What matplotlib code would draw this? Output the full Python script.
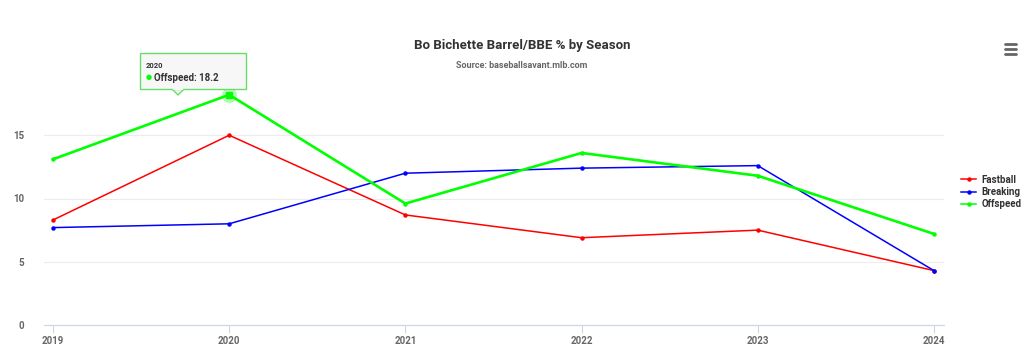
import matplotlib.pyplot as plt
from matplotlib.lines import Line2D

plt.rcParams['font.family'] = ['Roboto', 'DejaVu Sans']

seasons = [2019, 2020, 2021, 2022, 2023, 2024]
fastball = [8.3, 15.0, 8.7, 6.9, 7.5, 4.3]
breaking = [7.7, 8.0, 12.0, 12.4, 12.6, 4.3]
offspeed = [13.1, 18.2, 9.6, 13.6, 11.8, 7.2]

series = [
    ('Fastball', fastball, '#ff0000', 1.1),
    ('Breaking', breaking, '#0000ff', 1.1),
    ('Offspeed', offspeed, '#00ff00', 1.9),
]

fig = plt.figure(figsize=(10.24, 3.47), dpi=100)
ax = fig.add_axes([44 / 1024, 22 / 347, 900 / 1024, 253 / 347])

for name, vals, col, lw in series:
    ax.plot(seasons, vals, color=col, lw=lw, marker='o', markersize=2.2, label=name, zorder=3)

# hovered point
ax.plot(seasons[1], offspeed[1], 'o', markersize=10, color='#00ff00', alpha=0.25, zorder=2)
ax.plot(seasons[1], offspeed[1], 's', markersize=4, color='#00ff00', zorder=4)

ax.set_xlim(2018.949, 2024.057)
ax.set_ylim(0, 20)
ax.set_yticks([0, 5, 10, 15])
ax.set_xticks(seasons)
ax.set_xticklabels([str(s) for s in seasons])
ax.grid(axis='y', color='#ececec', lw=0.8)
ax.set_axisbelow(True)
for s in ['top', 'right', 'left']:
    ax.spines[s].set_visible(False)
ax.spines['bottom'].set_color('#ccd6eb')
ax.tick_params(axis='y', length=0, labelsize=7, labelcolor='#666666', pad=14)
ax.tick_params(axis='x', length=6, color='#ccd6eb', labelsize=7, labelcolor='#666666', pad=2)
for lbl in ax.get_xticklabels() + ax.get_yticklabels():
    lbl.set_fontweight('bold')

fig.text(522 / 1024, 1 - 46 / 347, 'Bo Bichette Barrel/BBE % by Season', ha='center', va='center',
         fontsize=9.5, fontweight='bold', color='#333333')
fig.text(522 / 1024, 1 - 65 / 347, 'Source: baseballsavant.mlb.com', ha='center', va='center',
         fontsize=6.5, fontweight='bold', color='#666666')

# legend
handles = [Line2D([0], [0], color=c, lw=1.1, marker='o', markersize=2.2) for _, _, c, _ in series]
leg = fig.legend(handles, [n for n, _, _, _ in series], loc='center left',
                 bbox_to_anchor=(952 / 1024, 1 - 192 / 347), frameon=False,
                 fontsize=7, handlelength=1.6, handletextpad=0.5, labelspacing=0.25)
for t in leg.get_texts():
    t.set_fontweight('bold')
    t.set_color('#333333')

# tooltip
box_x0, box_y0 = 140 / 1024, 1 - 89 / 347
fig.patches.append(plt.Rectangle((box_x0, box_y0), 106 / 1024, 36 / 347, transform=fig.transFigure,
                                 facecolor='#f7f7f7', edgecolor='#66dd66', lw=1, zorder=10))
fig.patches.append(plt.Polygon([(172 / 1024, box_y0), (184 / 1024, box_y0), (178 / 1024, 1 - 95 / 347)],
                               closed=True, transform=fig.transFigure, facecolor='#f7f7f7',
                               edgecolor='#66dd66', lw=1, zorder=9))
fig.patches.append(plt.Rectangle((173 / 1024, box_y0 - 0.004), 10 / 1024, 0.008, transform=fig.transFigure,
                                 facecolor='#f7f7f7', edgecolor='none', zorder=11))
fig.text(146 / 1024, 1 - 66 / 347, '2020', fontsize=5.5, fontweight='bold', color='#333333',
         va='center', zorder=12)
fig.text(146 / 1024, 1 - 78 / 347, '●', fontsize=5, color='#00ff00', va='center', zorder=12)
fig.text(154 / 1024, 1 - 78 / 347, 'Offspeed: 18.2', fontsize=7, fontweight='bold', color='#333333',
         va='center', zorder=12)

# menu icon
for yy in [44, 49, 54]:
    fig.add_artist(Line2D([1005 / 1024, 1016 / 1024], [1 - yy / 347, 1 - yy / 347],
                          transform=fig.transFigure, color='#666666', lw=2, solid_capstyle='round'))

fig.savefig('out.png', dpi=100)
